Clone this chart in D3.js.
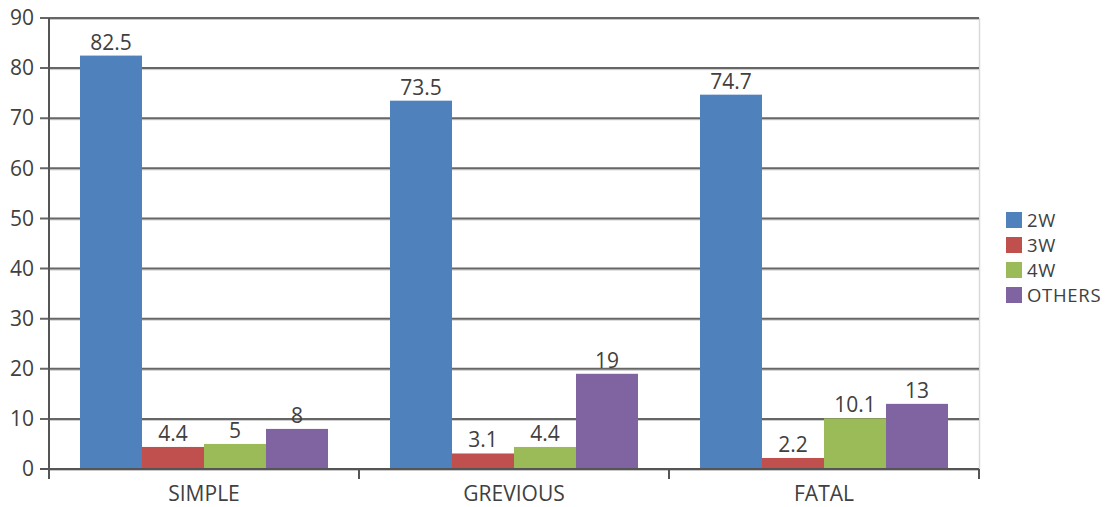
<!DOCTYPE html>
<html><head><meta charset="utf-8">
<script src="https://cdn.jsdelivr.net/npm/d3@7"></script>
<style>body{margin:0;background:#fff}svg{display:block}text{font-family:"Open Sans",sans-serif;fill:#404040}</style>
</head><body><svg id="c" width="1110" height="507"></svg>
<script>
const categories = ["SIMPLE", "GREVIOUS", "FATAL"];
const seriesNames = ["2W", "3W", "4W", "OTHERS"];
const values2W = [82.5, 73.5, 74.7];
const values3W = [4.4, 3.1, 2.2];
const values4W = [5, 4.4, 10.1];
const valuesOthers = [8, 19, 13];
const yTicks = [0, 10, 20, 30, 40, 50, 60, 70, 80, 90];
const colors = ["#4f81bd", "#c0504d", "#9bbb59", "#8064a2"];

const series = [values2W, values3W, values4W, valuesOthers];
const svg = d3.select("#c");
const L = 49, R = 979, T = 18, B = 469;
const FS = 21;
const x0 = d3.scaleBand().domain(categories).range([L, R]).paddingInner(0).paddingOuter(0);
const x1 = d3.scaleBand().domain(seriesNames).range([x0.bandwidth() * 0.1, x0.bandwidth() * 0.9]).paddingInner(0).paddingOuter(0);
const y = d3.scaleLinear().domain([0, 90]).range([B, T]);

// right border
svg.append("line").attr("x1", R + 0.5).attr("x2", R + 0.5).attr("y1", T).attr("y2", B)
  .attr("stroke", "#d9d9d9").attr("stroke-width", 1.5);

// gridlines
const g = svg.append("g");
yTicks.forEach(t => {
  g.append("line").attr("x1", L).attr("x2", R).attr("y1", y(t) + 1.5).attr("y2", y(t) + 1.5)
    .attr("stroke", "#c8c8c8").attr("stroke-width", 1);
  g.append("line").attr("x1", L - 9).attr("x2", R).attr("y1", y(t)).attr("y2", y(t))
    .attr("stroke", "#666").attr("stroke-width", 2);
});

// bars
categories.forEach((c, ci) => {
  seriesNames.forEach((s, si) => {
    const v = series[si][ci];
    svg.append("rect").attr("x", x0(c) + x1(s)).attr("width", x1.bandwidth())
      .attr("y", y(v)).attr("height", B - y(v)).attr("fill", colors[si]);
    svg.append("text").attr("x", x0(c) + x1(s) + x1.bandwidth() / 2).attr("y", y(v) - 6)
      .attr("text-anchor", "middle").attr("font-size", FS).text(v);
  });
});

// y axis
const yAxis = d3.axisLeft(y).tickValues(yTicks).tickSize(0).tickPadding(15);
const ya = svg.append("g").attr("transform", `translate(${L},0)`).call(yAxis);
ya.select(".domain").remove();
ya.selectAll("text").attr("font-size", FS).attr("fill", "#404040").attr("font-family", "Open Sans");
svg.append("line").attr("x1", L).attr("x2", L).attr("y1", T).attr("y2", B + 10)
  .attr("stroke", "#555").attr("stroke-width", 2);

// x axis
svg.append("line").attr("x1", L - 9).attr("x2", R).attr("y1", B).attr("y2", B)
  .attr("stroke", "#555").attr("stroke-width", 2);
const xAxis = d3.axisBottom(x0).tickSize(0).tickPadding(17);
const xa = svg.append("g").attr("transform", `translate(0,${B})`).call(xAxis);
xa.select(".domain").remove();
xa.selectAll("text").attr("font-size", FS).attr("fill", "#404040").attr("font-family", "Open Sans");
[L, ...categories.map(c => x0(c) + x0.bandwidth())].forEach(px => {
  svg.append("line").attr("x1", px).attr("x2", px).attr("y1", B).attr("y2", B + 10)
    .attr("stroke", "#555").attr("stroke-width", 2);
});

// legend
const lg = svg.append("g");
seriesNames.forEach((s, i) => {
  const cy = 220 + i * 25;
  lg.append("rect").attr("x", 1006).attr("y", cy - 8).attr("width", 16).attr("height", 16).attr("fill", colors[i]);
  lg.append("text").attr("x", 1027).attr("y", cy).attr("dy", "0.36em").attr("font-size", 18.5)
    .attr("letter-spacing", "0.7px").text(s);
});
</script></body></html>
